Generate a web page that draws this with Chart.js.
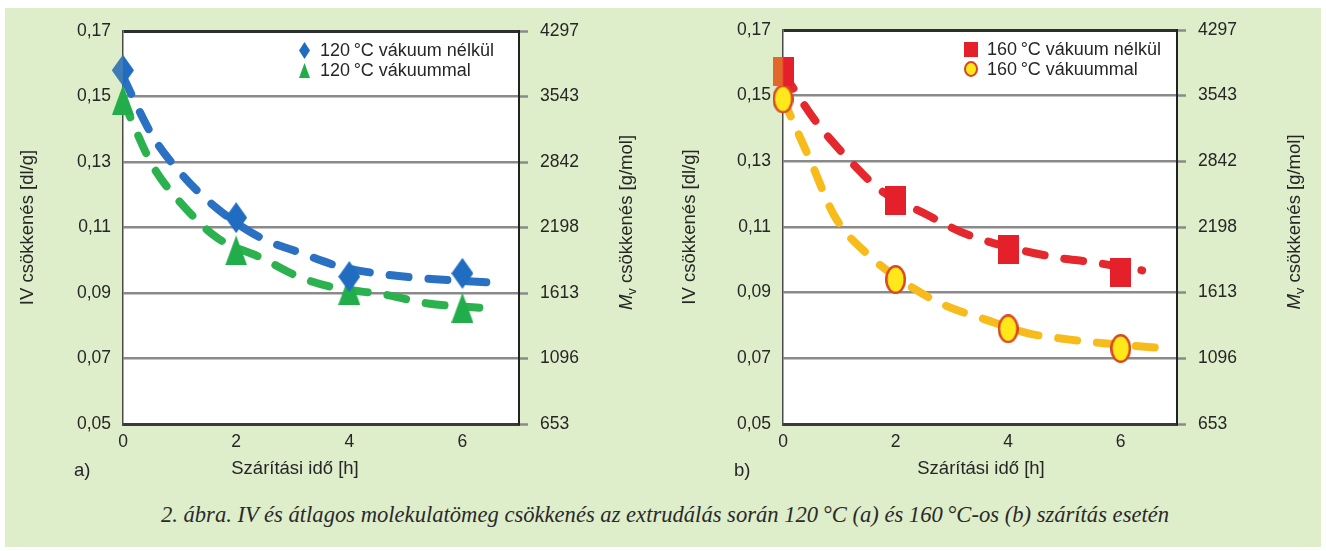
<!DOCTYPE html>
<html>
<head>
<meta charset="utf-8">
<script src="https://cdn.jsdelivr.net/npm/chart.js@4.4.1/dist/chart.umd.min.js"></script>
<style>
  html, body { margin: 0; padding: 0; background: #fff; }
  body { width: 1326px; height: 551px; position: relative; overflow: hidden; }
  #panel { position: absolute; left: 5px; top: 8px; width: 1316px; height: 539px; background: #deedca; }
  #chartA { position: absolute; left: 0; top: 0; }
  #chartB { position: absolute; left: 660px; top: 0; }
  #caption {
    position: absolute; left: 0; width: 1330px; top: 502px; text-align: center;
    font: italic 22.6px "Liberation Serif", "Times New Roman", serif; color: #2a2a2a;
  }
</style>
</head>
<body>
<div id="panel"></div>
<canvas id="chartA" width="663" height="490"></canvas>
<canvas id="chartB" width="666" height="490"></canvas>
<div id="caption">2. ábra. IV és átlagos molekulatömeg csökkenés az extrudálás során 120&thinsp;°C (a) és 160&thinsp;°C-os (b) szárítás esetén</div>
<script>
// measured points (drying time in h, IV in dl/g)
const dryTimes = [0, 2, 4, 6];
const iv120NoVac = [0.158, 0.113, 0.095, 0.096];
const iv120Vac = [0.149, 0.103, 0.091, 0.0855];
const iv160NoVac = [0.1575, 0.118, 0.103, 0.096];
const iv160Vac = [0.149, 0.094, 0.079, 0.073];

// dashed trend curves
const trend120NoVacT = [0, 0.52, 1.05, 1.65, 2.42, 3.1, 3.85, 4.7, 5.45, 6.67];
const trend120NoVacIV = [0.156, 0.138, 0.126, 0.116, 0.107, 0.1025, 0.098, 0.0955, 0.0943, 0.093];
const trend120VacT = [0, 0.15, 0.52, 1.1, 1.67, 2.45, 3.1, 3.7, 4.66, 5.39, 6.3];
const trend120VacIV = [0.149, 0.1428, 0.129, 0.116, 0.1068, 0.1007, 0.095, 0.0918, 0.0894, 0.0868, 0.0855];
const trend160NoVacT = [0, 0.59, 1.2, 1.75, 2.55, 3.23, 4.73, 5.48, 6.38];
const trend160NoVacIV = [0.157, 0.142, 0.130, 0.121, 0.1138, 0.108, 0.1011, 0.0993, 0.0968];
const trend160VacT = [0, 0.5, 0.92, 1.55, 2.3, 2.87, 3.6, 4.34, 5.1, 5.75, 6.77];
const trend160VacIV = [0.149, 0.1297, 0.1132, 0.101, 0.0915, 0.0862, 0.0818, 0.0777, 0.0757, 0.0745, 0.0731];

// axes
const timeTicks = [0, 2, 4, 6];
const ivTicks = [0.05, 0.07, 0.09, 0.11, 0.13, 0.15, 0.17];
const mvTicks = ['653', '1096', '1613', '2198', '2842', '3543', '4297'];

const TEXT = '#262626';
const FONT = '"Liberation Sans", Arial, sans-serif';
const TITLE_SIZE = 18.5;
Chart.defaults.font.family = FONT;
Chart.defaults.color = TEXT;

function makeMarker(shape, w, h, fill, opts = {}) {
    const c = document.createElement('canvas');
    c.width = w; c.height = h;
    const g = c.getContext('2d');
    const lw = opts.lineWidth || 0;
    g.beginPath();
    if (shape === 'diamond') {
        g.moveTo(w / 2, 0); g.lineTo(w, h / 2); g.lineTo(w / 2, h); g.lineTo(0, h / 2); g.closePath();
    } else if (shape === 'triangle') {
        g.moveTo(w / 2, 0); g.lineTo(w, h); g.lineTo(0, h); g.closePath();
    } else if (shape === 'square') {
        g.rect(0, 0, w, h);
    } else {
        g.ellipse(w / 2, h / 2, w / 2 - lw / 2, h / 2 - lw / 2, 0, 0, Math.PI * 2);
    }
    g.fillStyle = fill;
    g.fill();
    if (opts.leftFill) {
        g.save(); g.clip();
        g.fillStyle = opts.leftFill;
        g.fillRect(0, 0, w / 2, h);
        g.restore();
    }
    if (lw) {
        g.lineWidth = lw; g.strokeStyle = opts.stroke; g.stroke();
    }
    return c;
}

const BLUE = '#1f6cc0', GREEN = '#22ad4b', RED = '#e4202a', YELLOW = '#ffe81a', RIM = '#d8471f';
const diamond = makeMarker('diamond', 22, 31, BLUE);
const diamondFirst = makeMarker('diamond', 22, 31, BLUE, { leftFill: '#3f7cb6' });
const triangle = makeMarker('triangle', 22, 30, GREEN);
const square = makeMarker('square', 21, 29, RED);
const squareFirst = makeMarker('square', 21, 29, RED, { leftFill: '#e3662b' });
const circle = makeMarker('circle', 21, 29, YELLOW, { lineWidth: 2.5, stroke: RIM });

function points(xs, ys) {
    return xs.map((x, i) => ({ x: x, y: ys[i] }));
}

function markerSet(label, ys, styles, legendMarker) {
    return {
        label: label,
        data: points(dryTimes, ys),
        showLine: false,
        pointStyle: styles,
        pointRadius: 12,
        pointHoverRadius: 12,
        clip: false,
        legendMarker: legendMarker
    };
}

function trendSet(xs, ys, color) {
    return {
        data: points(xs, ys),
        borderColor: color,
        borderWidth: 8,
        borderDash: [19, 20],
        borderCapStyle: 'round',
        cubicInterpolationMode: 'monotone',
        pointRadius: 0,
        fill: false
    };
}

const decor = {
    id: 'decor',
    beforeDraw(chart) {
        const { ctx, chartArea: a } = chart;
        ctx.save();
        ctx.fillStyle = '#ffffff';
        ctx.fillRect(a.left, a.top, a.right - a.left, a.bottom - a.top);
        ctx.restore();
    },
    afterDraw(chart, args, opts) {
        const { ctx, chartArea: a } = chart;
        ctx.save();
        ctx.fillStyle = TEXT;

        // legend inside the plot
        ctx.font = '18px ' + FONT;
        ctx.textAlign = 'left';
        ctx.textBaseline = 'middle';
        let row = 0;
        chart.data.datasets.forEach(d => {
            if (!d.legendMarker) return;
            const m = d.legendMarker;
            const y = a.top + 19 + row * 20;
            const x = a.right - opts.legendOffset;
            ctx.drawImage(m, Math.round(x - m.width / 2), Math.round(y - m.height / 2));
            ctx.fillText(d.label, x + 16, y + 1);
            row++;
        });

        // x axis title and panel tag
        ctx.font = TITLE_SIZE + 'px ' + FONT;
        ctx.textAlign = 'center';
        ctx.fillText('Szárítási idő [h]', a.left + opts.xTitleOffset, a.bottom + 45);
        ctx.textAlign = 'left';
        ctx.fillText(opts.tag, a.left - 49, a.bottom + 47);

        // right axis title, with italic M and subscript v
        const rest = ' csökkenés [g/mol]';
        ctx.font = 'italic ' + TITLE_SIZE + 'px ' + FONT;
        const wM = ctx.measureText('M').width;
        ctx.font = '13px ' + FONT;
        const wV = ctx.measureText('v').width;
        ctx.font = TITLE_SIZE + 'px ' + FONT;
        const wR = ctx.measureText(rest).width;
        ctx.translate(a.right + opts.rightTitleOffset, (a.top + a.bottom) / 2 - 5);
        ctx.rotate(-Math.PI / 2);
        let x0 = -(wM + wV + wR) / 2;
        ctx.font = 'italic ' + TITLE_SIZE + 'px ' + FONT;
        ctx.fillText('M', x0, 0);
        x0 += wM;
        ctx.font = '13px ' + FONT;
        ctx.fillText('v', x0, 5);
        x0 += wV;
        ctx.font = TITLE_SIZE + 'px ' + FONT;
        ctx.fillText(rest, x0, 0);
        ctx.restore();
    }
};

function buildChart(id, c) {
    const canvas = document.getElementById(id);
    const W = canvas.width, H = canvas.height;
    const edgeLine = ctx => (ctx.tick && (ctx.tick.value > 0.169 || ctx.tick.value < 0.051));
    return new Chart(canvas, {
        type: 'line',
        data: { datasets: c.datasets },
        plugins: [decor],
        options: {
            responsive: false,
            animation: false,
            devicePixelRatio: 1,
            layout: { padding: { top: c.top, left: 0, right: 0, bottom: 0 } },
            plugins: {
                legend: { display: false },
                tooltip: { enabled: false },
                decor: c.decor
            },
            scales: {
                x: {
                    type: 'linear', min: 0, max: 7,
                    afterBuildTicks: s => { s.ticks = timeTicks.map(v => ({ value: v })); },
                    afterFit: s => { s.height = H - c.bottom; },
                    grid: { display: false, drawTicks: false },
                    border: { display: true, color: '#3a3a3a', width: 3 },
                    ticks: { padding: 8, color: TEXT, font: { size: 17.5 }, maxRotation: 0 }
                },
                y: {
                    type: 'linear', position: 'left', min: 0.05, max: 0.17,
                    afterBuildTicks: s => { s.ticks = ivTicks.map(v => ({ value: v })); },
                    afterFit: s => { s.width = c.left; },
                    grid: {
                        drawTicks: false,
                        color: ctx => edgeLine(ctx) ? '#2e2e2e' : '#8a8a8a',
                        lineWidth: ctx => edgeLine(ctx) ? 3 : 2.5
                    },
                    border: { display: true, color: '#4a4a4a', width: 1.5 },
                    ticks: {
                        padding: 12, color: TEXT, font: { size: 17.5 },
                        callback: v => v.toFixed(2).replace('.', ',')
                    },
                    title: {
                        display: true, text: 'IV csökkenés [dl/g]', color: TEXT,
                        font: { size: TITLE_SIZE }, padding: { top: c.leftTitlePad, bottom: 0 }
                    }
                },
                y2: {
                    type: 'linear', position: 'right', min: 0.05, max: 0.17,
                    afterBuildTicks: s => { s.ticks = ivTicks.map(v => ({ value: v })); },
                    afterFit: s => { s.width = W - c.right; },
                    grid: {
                        drawOnChartArea: false, drawTicks: true, tickLength: 9,
                        tickColor: '#8a8a8a', tickWidth: 2.5
                    },
                    border: { display: true, color: '#222222', width: 2 },
                    ticks: {
                        padding: 12, color: TEXT, font: { size: 17.5 },
                        callback: (v, i) => mvTicks[i]
                    }
                }
            }
        }
    });
}

buildChart('chartA', {
    left: 123, right: 519, top: 31, bottom: 424, leftTitlePad: 17,
    decor: { legendOffset: 215, xTitleOffset: 172, rightTitleOffset: 108, tag: 'a)' },
    datasets: [
        markerSet('120\u2009°C vákuum nélkül', iv120NoVac, [diamondFirst, diamond, diamond, diamond],
            makeMarker('diamond', 11, 17, BLUE)),
        markerSet('120\u2009°C vákuummal', iv120Vac, triangle,
            makeMarker('triangle', 11, 15, GREEN)),
        trendSet(trend120NoVacT, trend120NoVacIV, '#2a71c3'),
        trendSet(trend120VacT, trend120VacIV, '#2bb24f')
    ]
});

buildChart('chartB', {
    left: 123, right: 517, top: 30, bottom: 424, leftTitlePad: 19,
    decor: { legendOffset: 206, xTitleOffset: 198, rightTitleOffset: 118, tag: 'b)' },
    datasets: [
        markerSet('160\u2009°C vákuum nélkül', iv160NoVac, [squareFirst, square, square, square],
            makeMarker('square', 14, 15, RED)),
        markerSet('160\u2009°C vákuummal', iv160Vac, circle,
            makeMarker('circle', 14, 16, YELLOW, { lineWidth: 2, stroke: RIM })),
        trendSet(trend160NoVacT, trend160NoVacIV, '#e5282d'),
        trendSet(trend160VacT, trend160VacIV, '#f8bb1c')
    ]
});
</script>
</body>
</html>
